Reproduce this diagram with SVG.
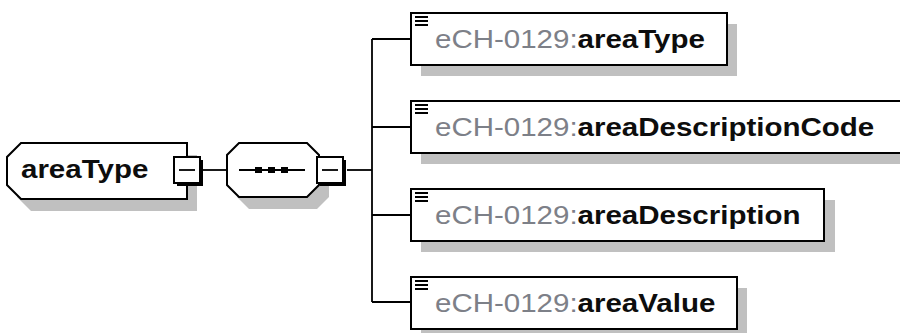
<svg xmlns="http://www.w3.org/2000/svg" width="900" height="333" viewBox="0 0 900 333">
  <style>
    .shadow { fill: #c0c0c0; }
    .frame { fill: #ffffff; stroke: #000000; stroke-width: 2; }
    .wire { fill: none; stroke: #000000; stroke-width: 1.8; }
    .label { font-family: "Liberation Sans", Arial, sans-serif; font-size: 25px; }
    .ns { fill: #7d8088; }
    .name { fill: #0d0d0d; font-weight: bold; }
    .bar { fill: #000000; }
  </style>
  <defs>
    <!-- collapse (minus) button with its dark drop edge -->
    <g id="minus">
      <rect x="3" y="3" width="26" height="26" fill="#000000"/>
      <rect x="0" y="0" width="26" height="26" fill="#ffffff" stroke="#000000" stroke-width="2"/>
      <line x1="5" y1="13" x2="21" y2="13" stroke="#000000" stroke-width="1.8"/>
    </g>
    <!-- "simple content" mark in the corner of each element -->
    <g id="lines">
      <rect x="0" y="0" width="13" height="2" class="bar"/>
      <rect x="0" y="4" width="13" height="2" class="bar"/>
      <rect x="0" y="8" width="13" height="2" class="bar"/>
    </g>
  </defs>

  <!-- connectors -->
  <g id="connectors">
    <line x1="200" y1="170" x2="227" y2="170" class="wire"/>
    <line x1="347" y1="170" x2="372" y2="170" class="wire"/>
    <line x1="372" y1="39" x2="372" y2="302" class="wire"/>
    <line x1="372" y1="39" x2="411" y2="39" class="wire"/>
    <line x1="372" y1="127" x2="411" y2="127" class="wire"/>
    <line x1="372" y1="215" x2="411" y2="215" class="wire"/>
    <line x1="372" y1="302" x2="411" y2="302" class="wire"/>
  </g>

  <!-- complex type areaType -->
  <g id="node-areaType">
    <path class="shadow" d="M31,155 H197 V211 H31 L17,197 V169 Z"/>
    <path class="frame" d="M21,143 H187 V199 H21 L7,185 V157 Z"/>
    <text class="label name" transform="translate(21,178) scale(1.18,1)">areaType</text>
    <use href="#minus" x="174" y="157"/>
  </g>

  <!-- sequence compositor -->
  <g id="node-sequence">
    <path class="shadow" d="M249,155 H317 L329,167 V197 L317,209 H249 L237,197 V167 Z"/>
    <path class="frame" d="M239,143 H307 L319,155 V185 L307,197 H239 L227,185 V155 Z"/>
    <line x1="239" y1="170" x2="305" y2="170" stroke="#000000" stroke-width="1.8"/>
    <rect x="255" y="167" width="7" height="6" class="bar"/>
    <rect x="268" y="167" width="7" height="6" class="bar"/>
    <rect x="281" y="167" width="7" height="6" class="bar"/>
    <use href="#minus" x="317" y="157"/>
  </g>

  <!-- child elements -->
  <g id="node-areaTypeElement">
    <rect class="shadow" x="421" y="24" width="316" height="52"/>
    <rect class="frame" x="411" y="13" width="316" height="52"/>
    <use href="#lines" x="415" y="16"/>
    <text class="label" transform="translate(435,48) scale(1.18,1)"><tspan class="ns">eCH-0129:</tspan><tspan class="name">areaType</tspan></text>
  </g>

  <g id="node-areaDescriptionCode">
    <rect class="shadow" x="421" y="112" width="490" height="52"/>
    <rect class="frame" x="411" y="101" width="495" height="52"/>
    <use href="#lines" x="415" y="104"/>
    <text class="label" transform="translate(435,136) scale(1.18,1)"><tspan class="ns">eCH-0129:</tspan><tspan class="name">areaDescriptionCode</tspan></text>
  </g>

  <g id="node-areaDescription">
    <rect class="shadow" x="421" y="200" width="414" height="52"/>
    <rect class="frame" x="411" y="189" width="413" height="52"/>
    <use href="#lines" x="415" y="192"/>
    <text class="label" transform="translate(435,224) scale(1.18,1)"><tspan class="ns">eCH-0129:</tspan><tspan class="name">areaDescription</tspan></text>
  </g>

  <g id="node-areaValue">
    <rect class="shadow" x="421" y="288" width="326" height="52"/>
    <rect class="frame" x="411" y="277" width="326" height="52"/>
    <use href="#lines" x="415" y="280"/>
    <text class="label" transform="translate(435,312) scale(1.18,1)"><tspan class="ns">eCH-0129:</tspan><tspan class="name">areaValue</tspan></text>
  </g>
</svg>
